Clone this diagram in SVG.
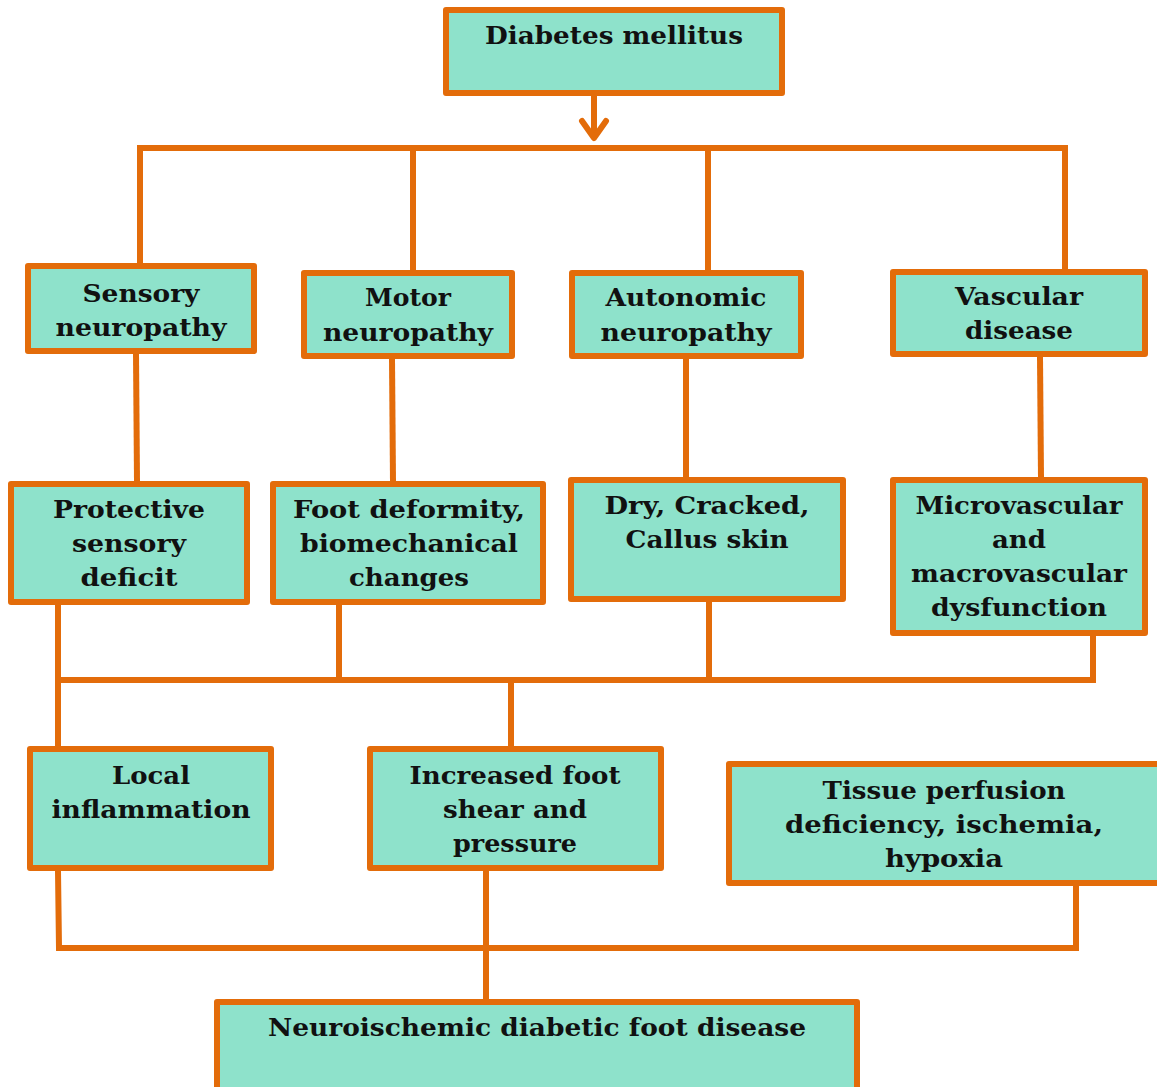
<svg xmlns="http://www.w3.org/2000/svg" width="1157" height="1087" viewBox="0 0 1157 1087">
<style>
.box{fill:#8ee2cb;stroke:#e36c0a;stroke-width:6;stroke-linejoin:round}
.ln{fill:none;stroke:#e36c0a;stroke-width:6;stroke-linecap:butt;stroke-linejoin:miter}
.t{font-family:"DejaVu Serif","Liberation Serif",serif;font-weight:bold;font-size:24px;fill:#111;text-anchor:middle}
</style>
<rect width="1157" height="1087" fill="#fff"/>
<g id="connectors">
<line class="ln" x1="594" y1="96" x2="594" y2="138"/>
<polyline class="ln" points="582,121 594,138 606,121" style="stroke-linecap:round;stroke-linejoin:round"/>
<polyline class="ln" points="137,148 1065,148"/>
<line class="ln" x1="140" y1="148" x2="140" y2="264"/>
<line class="ln" x1="413" y1="148" x2="413" y2="271"/>
<line class="ln" x1="708" y1="148" x2="708" y2="271"/>
<line class="ln" x1="1065" y1="145" x2="1065" y2="270"/>
<line class="ln" x1="136" y1="353" x2="137" y2="482"/>
<line class="ln" x1="392" y1="359" x2="393" y2="482"/>
<line class="ln" x1="686" y1="359" x2="686" y2="478"/>
<line class="ln" x1="1040" y1="357" x2="1041" y2="478"/>
<line class="ln" x1="58" y1="605" x2="58" y2="747"/>
<line class="ln" x1="339" y1="605" x2="339" y2="680"/>
<line class="ln" x1="709" y1="602" x2="709" y2="680"/>
<polyline class="ln" points="55,680 1093,680 1093,636"/>
<line class="ln" x1="511" y1="680" x2="511" y2="747"/>
<polyline class="ln" points="58,871 59,948 1076,948 1076,886"/>
<line class="ln" x1="486" y1="871" x2="486" y2="1000"/>
</g>
<g id="n1"><rect class="box" x="446" y="10" width="336" height="83"/><text class="t" x="614" y="44" textLength="258" lengthAdjust="spacingAndGlyphs">Diabetes mellitus</text></g>
<g id="n2"><rect class="box" x="28" y="266" width="226" height="85"/><text class="t" x="141" y="302" textLength="117" lengthAdjust="spacingAndGlyphs">Sensory</text><text class="t" x="141" y="336" textLength="171" lengthAdjust="spacingAndGlyphs">neuropathy</text></g>
<g id="n3"><rect class="box" x="304" y="273" width="208" height="83"/><text class="t" x="408" y="306" textLength="86" lengthAdjust="spacingAndGlyphs">Motor</text><text class="t" x="408" y="341" textLength="170" lengthAdjust="spacingAndGlyphs">neuropathy</text></g>
<g id="n4"><rect class="box" x="572" y="273" width="229" height="83"/><text class="t" x="686" y="306" textLength="161" lengthAdjust="spacingAndGlyphs">Autonomic</text><text class="t" x="686" y="341" textLength="171" lengthAdjust="spacingAndGlyphs">neuropathy</text></g>
<g id="n5"><rect class="box" x="893" y="272" width="252" height="82"/><text class="t" x="1019" y="305" textLength="128" lengthAdjust="spacingAndGlyphs">Vascular</text><text class="t" x="1019" y="339" textLength="108" lengthAdjust="spacingAndGlyphs">disease</text></g>
<g id="n6"><rect class="box" x="11" y="484" width="236" height="118"/><text class="t" x="129" y="518" textLength="152" lengthAdjust="spacingAndGlyphs">Protective</text><text class="t" x="129" y="552" textLength="114" lengthAdjust="spacingAndGlyphs">sensory</text><text class="t" x="129" y="586" textLength="97" lengthAdjust="spacingAndGlyphs">deficit</text></g>
<g id="n7"><rect class="box" x="273" y="484" width="270" height="118"/><text class="t" x="409" y="518" textLength="232" lengthAdjust="spacingAndGlyphs">Foot deformity,</text><text class="t" x="409" y="552" textLength="218" lengthAdjust="spacingAndGlyphs">biomechanical</text><text class="t" x="409" y="586" textLength="120" lengthAdjust="spacingAndGlyphs">changes</text></g>
<g id="n8"><rect class="box" x="571" y="480" width="272" height="119"/><text class="t" x="707" y="514" textLength="205" lengthAdjust="spacingAndGlyphs">Dry, Cracked,</text><text class="t" x="707" y="548" textLength="163" lengthAdjust="spacingAndGlyphs">Callus skin</text></g>
<g id="n9"><rect class="box" x="893" y="480" width="252" height="153"/><text class="t" x="1019" y="514" textLength="207" lengthAdjust="spacingAndGlyphs">Microvascular</text><text class="t" x="1019" y="548" textLength="54" lengthAdjust="spacingAndGlyphs">and</text><text class="t" x="1019" y="582" textLength="216" lengthAdjust="spacingAndGlyphs">macrovascular</text><text class="t" x="1019" y="616" textLength="176" lengthAdjust="spacingAndGlyphs">dysfunction</text></g>
<g id="n10"><rect class="box" x="30" y="749" width="241" height="119"/><text class="t" x="151" y="784" textLength="78" lengthAdjust="spacingAndGlyphs">Local</text><text class="t" x="151" y="818" textLength="199" lengthAdjust="spacingAndGlyphs">inflammation</text></g>
<g id="n11"><rect class="box" x="370" y="749" width="291" height="119"/><text class="t" x="515" y="784" textLength="211" lengthAdjust="spacingAndGlyphs">Increased foot</text><text class="t" x="515" y="818" textLength="144" lengthAdjust="spacingAndGlyphs">shear and</text><text class="t" x="515" y="852" textLength="124" lengthAdjust="spacingAndGlyphs">pressure</text></g>
<g id="n12"><rect class="box" x="729" y="764" width="440" height="119"/><text class="t" x="944" y="799" textLength="243" lengthAdjust="spacingAndGlyphs">Tissue perfusion</text><text class="t" x="944" y="833" textLength="318" lengthAdjust="spacingAndGlyphs">deficiency, ischemia,</text><text class="t" x="944" y="867" textLength="118" lengthAdjust="spacingAndGlyphs">hypoxia</text></g>
<g id="n13"><rect class="box" x="217" y="1002" width="640" height="100"/><text class="t" x="537" y="1036" textLength="538" lengthAdjust="spacingAndGlyphs">Neuroischemic diabetic foot disease</text></g>
</svg>
